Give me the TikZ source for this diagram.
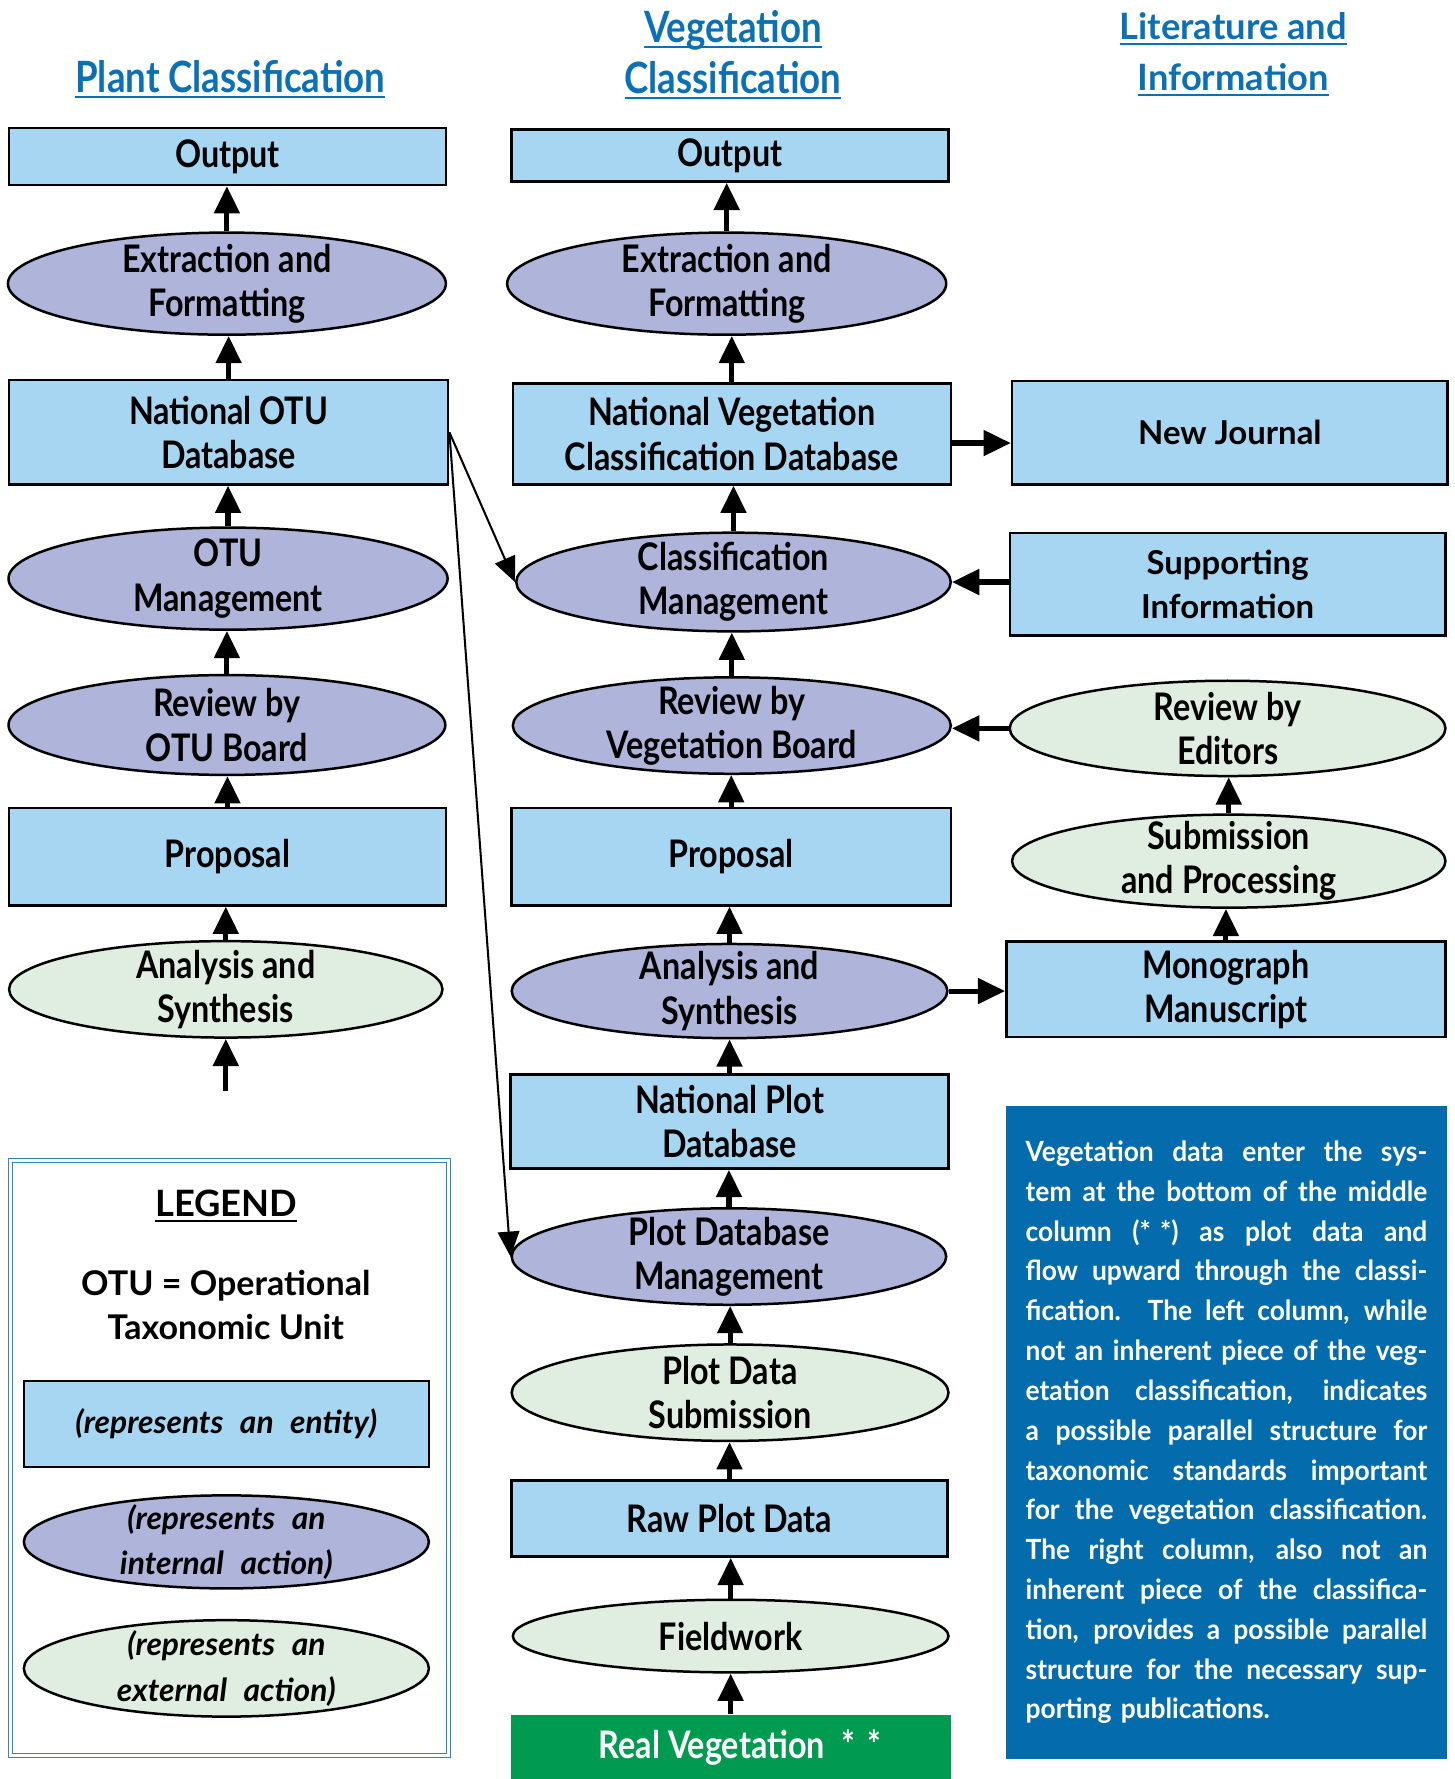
\documentclass[tikz,border=0pt]{standalone}
\usepackage{fontspec}
\setmainfont{Lato}
\newfontfamily\narrowfont[FakeStretch=0.85]{Lato}
\newfontfamily\notefont[FakeStretch=0.95]{Lato}
\usetikzlibrary{positioning,arrows.meta,shapes.geometric}
\definecolor{entityblue}{RGB}{166,214,242}
\definecolor{internalpurple}{RGB}{174,180,218}
\definecolor{externalgreen}{RGB}{224,238,226}
\definecolor{heading}{RGB}{12,112,182}
\definecolor{notebg}{RGB}{4,108,172}
\definecolor{realveg}{RGB}{0,155,80}
\definecolor{legline}{RGB}{46,134,200}
\newcommand{\ulinetext}[1]{\setbox0\hbox{#1}\rlap{\rule[-5pt]{\wd0}{2pt}}\box0}
\newcommand{\noteline}[1]{{\spaceskip=0.25em plus 1em minus 0.1em\xspaceskip=0pt\makebox[354pt][s]{#1}}\\}

\begin{document}
\begin{tikzpicture}[x=1pt, y=-1pt,
    entitybox/.style={draw, line width=2.2pt, fill=entityblue, minimum width=385pt, align=center, inner sep=0pt,
      font=\narrowfont\bfseries\fontsize{33.5}{39}\selectfont},
    internalact/.style={ellipse, draw, line width=2.2pt, fill=internalpurple, minimum width=385pt, align=center,
      inner xsep=0pt, inner ysep=-9pt, font=\narrowfont\bfseries\fontsize{33.5}{39}\selectfont},
    externalact/.style={internalact, fill=externalgreen},
    heading/.style={text=heading, align=center, font=\narrowfont\bfseries\fontsize{38}{45}\selectfont},
    legtext/.style={align=center, font=\bfseries\fontsize{30}{39}\selectfont},
    legital/.style={font=\bfseries\itshape\fontsize{28}{40}\selectfont},
    flow/.style={line width=4.5pt, -{Triangle[width=22pt,length=24pt]}},
    link/.style={line width=1.8pt, -{Triangle[width=19pt,length=22pt]}}]
  \useasboundingbox (0,0) rectangle (1282,1568);

  \node[heading] (hPlant) at (203,70) {\ulinetext{Plant Classification}};
  \node[heading] (hVeg) at (646,48) {\ulinetext{Vegetation}\\\ulinetext{Classification}};
  \node[heading, font=\bfseries\fontsize{32}{45}\selectfont] (hLit) at (1087,48) {\ulinetext{Literature and}\\\ulinetext{Information}};

  \node[entitybox, minimum height=50pt] (pOut) at (200.5,138) {Output};
  \node[internalact, minimum width=386pt, minimum height=90pt] (pExt) at (200,250) {Extraction and\\Formatting};
  \node[entitybox, minimum width=387pt, minimum height=92pt] (pDB) at (201.5,381) {National OTU\\Database};
  \node[internalact, minimum width=387pt, minimum height=90pt] (pMan) at (201,510) {OTU\\Management};
  \node[internalact, minimum height=88pt] (pRev) at (200,639) {Review by\\OTU Board};
  \node[entitybox, minimum height=86pt] (pProp) at (200.5,755) {Proposal};
  \node[externalact, minimum width=382pt, minimum height=85pt] (pAna) at (199,872) {Analysis and\\Synthesis};
  \coordinate (pIn) at (199,962);

  \node[entitybox, minimum height=46pt] (vOut) at (643.5,137) {Output};
  \node[internalact, minimum width=387pt, minimum height=90pt] (vExt) at (640.5,250) {Extraction and\\Formatting};
  \node[entitybox, minimum width=386pt, minimum height=89pt] (vDB) at (645,382.5) {National Vegetation\\Classification Database};
  \node[internalact, minimum width=383pt, minimum height=87pt] (vMan) at (646.5,513) {Classification\\Management};
  \node[internalact, minimum width=386pt, minimum height=85pt] (vRev) at (645,639.5) {Review by\\Vegetation Board};
  \node[entitybox, minimum width=387pt, minimum height=86pt] (vProp) at (644.5,755) {Proposal};
  \node[internalact, minimum width=384pt, minimum height=83pt] (vAna) at (643,873.5) {Analysis and\\Synthesis};
  \node[entitybox, minimum width=386pt, minimum height=83pt] (vPlot) at (643,988.5) {National Plot\\Database};
  \node[internalact, minimum width=383pt, minimum height=85pt] (vPlotMan) at (642.5,1107.5) {Plot Database\\Management};
  \node[externalact, minimum height=85pt] (vSub) at (643.5,1227.5) {Plot Data\\Submission};
  \node[entitybox, minimum width=384pt, minimum height=67pt] (vRaw) at (643,1338.5) {Raw Plot Data};
  \node[externalact, minimum width=384pt, minimum height=64pt] (vField) at (644,1442) {Fieldwork};
  \node[entitybox, draw=none, fill=realveg, text=white, minimum width=388pt, minimum height=56pt] (vReal) at (644,1540) {\hspace{16pt}Real Vegetation\hspace{0.45em}*\hspace{0.3em}*};

  \node[entitybox, minimum width=384pt, minimum height=91pt, font=\bfseries\fontsize{29}{39}\selectfont] (lJour) at (1084,381.5) {New Journal};
  \node[entitybox, minimum width=384pt, minimum height=90pt, font=\bfseries\fontsize{29}{39}\selectfont] (lSup) at (1082,515) {Supporting\\Information};
  \node[externalact, minimum width=384pt, minimum height=84pt] (lRev) at (1082,642) {Review by\\Editors};
  \node[externalact, minimum width=382pt, minimum height=82pt] (lSub) at (1083,759) {Submission\\and Processing};
  \node[entitybox, minimum width=387pt, minimum height=84pt] (lMono) at (1080.5,872) {Monograph\\Manuscript};

  \node[fill=notebg, minimum width=388pt, minimum height=575pt, text=white, text width=354pt, align=left,
    font=\notefont\bfseries\fontsize{24.5}{35.1}\selectfont] (note) at (1081,1262.5) {%
    \noteline{Vegetation data enter the sys-}
    \noteline{tem at the bottom of the middle}
    \noteline{column \hbox{(*\,\,*)} as plot data and}
    \noteline{flow upward through the classi-}
    \noteline{fication. The left column, while}
    \noteline{not an inherent piece of the veg-}
    \noteline{etation classification, indicates}
    \noteline{a possible parallel structure for}
    \noteline{taxonomic standards important}
    \noteline{for the vegetation classification.}
    \noteline{The right column, also not an}
    \noteline{inherent piece of the classifica-}
    \noteline{tion, provides a possible parallel}
    \noteline{structure for the necessary sup-}
    porting publications.};

  \node[draw=legline, double=white, double distance=2.5pt, line width=1pt, minimum width=386pt, minimum height=525pt] (legend) at (202.5,1285) {};
  \node[legtext, font=\bfseries\fontsize{32}{39}\selectfont] (legTitle) at (199.5,1063) {\ulinetext{LEGEND}};
  \node[legtext] (legOtu) at (199,1150) {OTU = Operational\\Taxonomic Unit};
  \node[entitybox, legital, minimum width=357pt, minimum height=76pt] (legEnt) at (199.5,1255) {(represents\hspace{0.3em} an\hspace{0.3em} entity)};
  \node[internalact, legital, minimum width=357pt, minimum height=82pt] (legInt) at (199.5,1359) {(represents\hspace{0.3em} an\\internal\hspace{0.3em} action)};
  \node[externalact, legital, minimum width=357pt, minimum height=85pt] (legExt) at (199.5,1470.5) {(represents\hspace{0.3em} an\\external\hspace{0.3em} action)};

  \foreach \a/\b in {pExt/pOut, pDB/pExt, pMan/pDB, pRev/pMan, pProp/pRev, pAna/pProp,
      vExt/vOut, vDB/vExt, vMan/vDB, vRev/vMan, vProp/vRev, vAna/vProp, vPlot/vAna,
      vPlotMan/vPlot, vSub/vPlotMan, vRaw/vSub, vField/vRaw, vReal/vField, lSub/lRev, lMono/lSub}
    \draw[flow] (\a.north) -- (\a.north |- \b.south);
  \draw[flow] (pIn) -- (pIn |- pAna.south);
  \draw[flow] ([yshift=-8pt]vDB.east) -- ([yshift=-8pt]vDB.east -| lJour.west);
  \draw[flow] (lSup.west |- vMan.east) -- (vMan.east);
  \draw[flow] (lRev.west) -- (lRev.west -| vRev.east);
  \draw[flow] (vAna.east) -- (vAna.east -| lMono.west);
  \draw[link] (pDB.east) -- (vMan.west);
  \draw[link] (pDB.east) -- (vPlotMan.west);
\end{tikzpicture}
\end{document}
